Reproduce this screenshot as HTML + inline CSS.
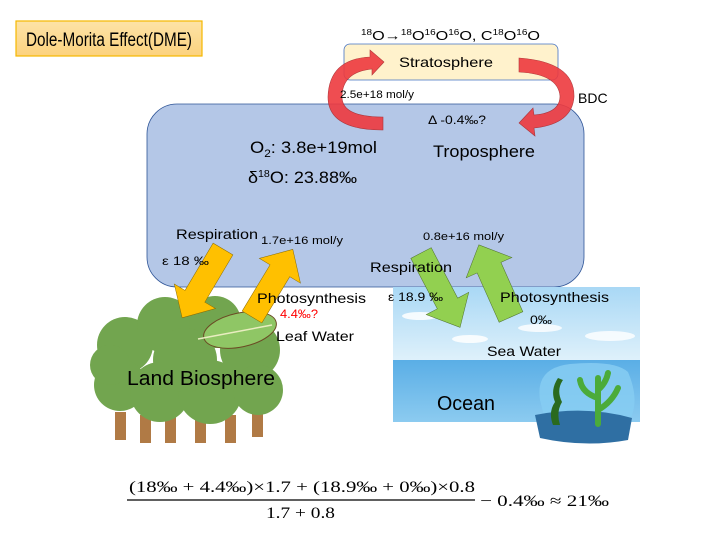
<!DOCTYPE html>
<html><head><meta charset="utf-8"><style>
html,body{margin:0;padding:0;background:#fff}
svg{display:block}
text{font-family:"Liberation Sans",sans-serif;fill:#000}
.m{font-family:"Liberation Serif",serif}
</style></head><body>
<svg width="720" height="540" viewBox="0 0 720 540" xmlns="http://www.w3.org/2000/svg">
<defs>
<linearGradient id="tg" x1="0" y1="0" x2="0" y2="1"><stop offset="0" stop-color="#fde3a7"/><stop offset="1" stop-color="#fcd27e"/></linearGradient>
<linearGradient id="sky" x1="0" y1="0" x2="0" y2="1"><stop offset="0" stop-color="#a9d8f5"/><stop offset="1" stop-color="#dff1fb"/></linearGradient>
<linearGradient id="sea" x1="0" y1="0" x2="0" y2="1"><stop offset="0" stop-color="#5aaee6"/><stop offset="1" stop-color="#8ccbf0"/></linearGradient>
<polygon id="ar" points="0,-11.5 -25,-11.5 -25,-24 0,0" />
</defs>
<!-- title -->
<rect x="16" y="21" width="186" height="35" fill="url(#tg)" stroke="#f5b800" stroke-width="1.2"/>
<text x="26" y="46" font-size="19" textLength="166" lengthAdjust="spacingAndGlyphs">Dole-Morita Effect(DME)</text>
<!-- stratosphere -->
<text x="361" y="40" font-size="13" textLength="179" lengthAdjust="spacingAndGlyphs"><tspan font-size="8" dy="-5">18</tspan><tspan dy="5">O→</tspan><tspan font-size="8" dy="-5">18</tspan><tspan dy="5">O</tspan><tspan font-size="8" dy="-5">16</tspan><tspan dy="5">O</tspan><tspan font-size="8" dy="-5">16</tspan><tspan dy="5">O, C</tspan><tspan font-size="8" dy="-5">18</tspan><tspan dy="5">O</tspan><tspan font-size="8" dy="-5">16</tspan><tspan dy="5">O</tspan></text>
<rect x="344" y="44" width="214" height="36" rx="6" fill="#fff2cc" stroke="#4472c4" stroke-width="0.8"/>
<text x="399" y="67" font-size="14" textLength="94" lengthAdjust="spacingAndGlyphs">Stratosphere</text>
<!-- troposphere -->
<rect x="147" y="104" width="437" height="183" rx="30" fill="#b4c7e7" stroke="#2f5597" stroke-width="0.8"/>
<text x="250" y="153" font-size="17" textLength="127" lengthAdjust="spacingAndGlyphs">O<tspan font-size="11" dy="4">2</tspan><tspan dy="-4">: 3.8e+19mol</tspan></text>
<text x="248" y="183" font-size="17" textLength="109" lengthAdjust="spacingAndGlyphs">δ<tspan font-size="10" dy="-6">18</tspan><tspan dy="6">O: 23.88‰</tspan></text>
<text x="433" y="157" font-size="17" textLength="102" lengthAdjust="spacingAndGlyphs">Troposphere</text>
<text x="428" y="124" font-size="12" textLength="58" lengthAdjust="spacingAndGlyphs">Δ -0.4‰?</text>
<!-- red arrows -->
<path d="M383,130 Q328,130 328,97 Q329,59 370,57 L370,50 L384,62 L372,75 L372,69 Q342,72 342,97 Q342,117 383,117 Z" fill="#ee3a3f" stroke="#a8262a" stroke-width="0.6" opacity="0.9"/>
<path d="M519,58 Q575,62 574,97 Q572,124 534,128 L535,136 L519,123 L533,108 L534,115 Q560,113 560,96 Q558,74 519,72 Z" fill="#ee3a3f" stroke="#a8262a" stroke-width="0.6" opacity="0.9"/>
<text x="340" y="98" font-size="11" textLength="74" lengthAdjust="spacingAndGlyphs">2.5e+18 mol/y</text>
<text x="578" y="103" font-size="14">BDC</text>
<!-- ocean -->
<rect x="393" y="287" width="247" height="74" fill="url(#sky)"/>
<rect x="393" y="360" width="247" height="62" fill="url(#sea)"/>
<ellipse cx="420" cy="316" rx="18" ry="4" fill="#fff" opacity="0.85"/>
<ellipse cx="470" cy="339" rx="18" ry="4" fill="#fff" opacity="0.85"/>
<ellipse cx="540" cy="328" rx="22" ry="4" fill="#fff" opacity="0.8"/>
<ellipse cx="610" cy="336" rx="25" ry="5" fill="#fff" opacity="0.8"/>
<path d="M540,400 Q535,368 570,364 Q615,360 628,372 Q640,400 630,420 Q600,425 545,420 Z" fill="#86cdf2" opacity="0.85"/>
<path d="M535,415 Q585,405 632,418 L628,440 Q585,448 540,438 Z" fill="#2f6fa3"/>
<path d="M553,425 Q548,412 555,402 Q550,390 558,378 L563,380 Q556,390 562,402 Q556,412 560,425 Z" fill="#2a6a1e"/>
<path d="M598,424 L598,378 M598,398 Q582,393 580,380 M598,410 Q612,402 618,388 M598,390 Q606,383 608,373" stroke="#4bab3a" stroke-width="6" fill="none" stroke-linecap="round"/>
<text x="437" y="410" font-size="20" textLength="58" lengthAdjust="spacingAndGlyphs">Ocean</text>
<text x="487" y="356" font-size="14" textLength="74" lengthAdjust="spacingAndGlyphs">Sea Water</text>
<!-- tree -->
<g fill="#b07a45">
<rect x="115" y="412" width="11" height="28"/><rect x="140" y="415" width="11" height="28"/><rect x="165" y="415" width="11" height="28"/><rect x="195" y="415" width="11" height="28"/><rect x="225" y="415" width="11" height="28"/><rect x="252" y="412" width="11" height="25"/>
</g>
<g fill="#72a54f">
<circle cx="125" cy="345" r="28"/><circle cx="165" cy="325" r="28"/><circle cx="215" cy="322" r="26"/><circle cx="250" cy="350" r="30"/><circle cx="120" cy="385" r="26"/><circle cx="160" cy="392" r="30"/><circle cx="210" cy="392" r="32"/><circle cx="258" cy="390" r="25"/><circle cx="185" cy="360" r="32"/><circle cx="110" cy="365" r="20"/>
</g>
<ellipse cx="240" cy="330" rx="37" ry="17" transform="rotate(-12 240 330)" fill="#8fc665" stroke="#6b4a24" stroke-width="1"/>
<path d="M198,339 L272,325" stroke="#e9edc0" stroke-width="1.5"/>
<text x="127" y="385" font-size="20" textLength="148" lengthAdjust="spacingAndGlyphs">Land Biosphere</text>
<!-- yellow arrows -->
<g transform="translate(223,249) rotate(120.7)"><polygon points="0,-11.5 55,-11.5 55,-24 80,0 55,24 55,11.5 0,11.5" fill="#ffc000" stroke="#8a6a00" stroke-width="0.5"/></g>
<g transform="translate(252,317) rotate(-58.9)"><polygon points="0,-11.5 54,-11.5 54,-24 79,0 54,24 54,11.5 0,11.5" fill="#ffc000" stroke="#8a6a00" stroke-width="0.5"/></g>
<!-- green arrows -->
<g transform="translate(421,253) rotate(62.3)"><polygon points="0,-11.5 57,-11.5 57,-24 84,0 57,24 57,11.5 0,11.5" fill="#92d050" stroke="#4d6f2a" stroke-width="0.5"/></g>
<g transform="translate(511,317) rotate(-114)"><polygon points="0,-13 54,-13 54,-25 79,0 54,25 54,13 0,13" fill="#92d050" stroke="#4d6f2a" stroke-width="0.5"/></g>
<!-- labels -->
<text x="176" y="239" font-size="14" textLength="82" lengthAdjust="spacingAndGlyphs">Respiration</text>
<text x="162" y="265" font-size="12" textLength="47" lengthAdjust="spacingAndGlyphs">ε 18 ‰</text>
<text x="261" y="244" font-size="11" textLength="82" lengthAdjust="spacingAndGlyphs">1.7e+16 mol/y</text>
<text x="423" y="240" font-size="11" textLength="81" lengthAdjust="spacingAndGlyphs">0.8e+16 mol/y</text>
<text x="370" y="272" font-size="14" textLength="82" lengthAdjust="spacingAndGlyphs">Respiration</text>
<text x="388" y="301" font-size="12" textLength="55" lengthAdjust="spacingAndGlyphs">ε 18.9 ‰</text>
<text x="257" y="303" font-size="14" textLength="109" lengthAdjust="spacingAndGlyphs">Photosynthesis</text>
<text x="280" y="318" font-size="12" style="fill:#ff0000" textLength="38" lengthAdjust="spacingAndGlyphs">4.4‰?</text>
<text x="276" y="341" font-size="14" textLength="78" lengthAdjust="spacingAndGlyphs">Leaf Water</text>
<text x="500" y="302" font-size="14" textLength="109" lengthAdjust="spacingAndGlyphs">Photosynthesis</text>
<text x="530" y="324" font-size="12" textLength="22" lengthAdjust="spacingAndGlyphs">0‰</text>
<!-- formula -->
<text class="m" x="129" y="492" font-size="16" textLength="346" lengthAdjust="spacingAndGlyphs">(18‰ + 4.4‰)×1.7 + (18.9‰ + 0‰)×0.8</text>
<line x1="127" y1="500" x2="475" y2="500" stroke="#000" stroke-width="1.2"/>
<text class="m" x="266" y="518" font-size="16" textLength="69" lengthAdjust="spacingAndGlyphs">1.7 + 0.8</text>
<text class="m" x="480" y="506" font-size="16" textLength="129" lengthAdjust="spacingAndGlyphs">− 0.4‰ ≈ 21‰</text>
</svg>
</body></html>
